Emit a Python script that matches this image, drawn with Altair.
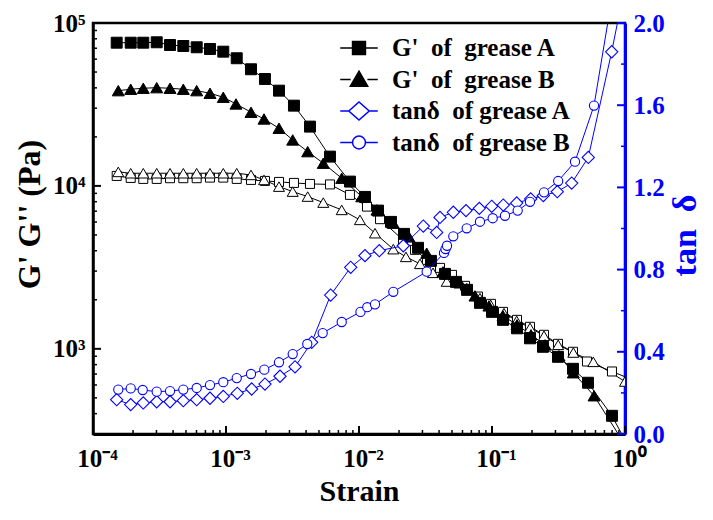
import altair as alt
import pandas as pd

# ---------------- data ----------------
# G' of grease A (filled squares)
strain_gp_a = [1.507e-4, 1.921e-4, 2.388e-4, 3.013e-4, 3.795e-4, 4.776e-4, 6.02e-4, 7.58e-4, 9.54e-4,
               1.204e-3, 1.542e-3, 1.963e-3, 2.503e-3, 3.243e-3, 4.28e-3, 6.05e-3, 8.55e-3, 1.109e-2,
               1.390e-2, 1.740e-2, 2.178e-2, 2.778e-2, 3.475e-2, 4.43e-2, 5.36e-2, 6.49e-2, 8.12e-2,
               0.100, 0.121, 0.1542, 0.1931, 0.2417, 0.3134, 0.4064, 0.527, 0.798, 1.0]
gp_a = [75700, 75700, 75700, 76150, 73280, 72270, 70950, 69270, 66680,
        60760, 52000, 45330, 38430, 31090, 23120, 15130, 10630, 8560,
        7055, 6014, 5076, 4169, 3467, 2884, 2576, 2301, 1915,
        1686, 1506, 1336, 1160, 1029, 893, 754, 619, 388, 275]

# G' of grease B (filled triangles)
strain_gp_b = [1.549e-4, 1.921e-4, 2.388e-4, 3.013e-4, 3.795e-4, 4.776e-4, 6.02e-4, 7.58e-4, 9.54e-4,
               1.189e-3, 1.542e-3, 1.931e-3, 2.503e-3, 3.174e-3, 4.113e-3, 5.389e-3, 7.413e-3, 1.048e-2,
               1.365e-2, 1.811e-2, 2.377e-2, 3.228e-2, 4.28e-2, 5.74e-2, 7.45e-2, 9.48e-2, 0.121,
               0.1542, 0.1965, 0.2503, 0.3191, 0.4088, 0.585, 1.0]
gp_b = [38430, 39200, 39760, 40090, 39760, 39200, 38430, 37040, 35010,
        31850, 28320, 25760, 22590, 19150, 16230, 13785, 11150, 8600,
        7124, 5904, 4866, 3865, 2968, 2541, 2114, 1835, 1594,
        1404, 1219, 1058, 906, 713, 515, 258]

# G'' of grease A (open squares)
strain_gpp_a = [1.507e-4, 1.921e-4, 2.388e-4, 3.013e-4, 3.795e-4, 4.776e-4, 6.02e-4, 7.58e-4, 9.54e-4,
                1.204e-3, 1.542e-3, 1.963e-3, 2.503e-3, 3.243e-3, 4.28e-3, 6.05e-3, 8.55e-3, 1.148e-2,
                1.439e-2, 2.142e-2, 2.636e-2, 3.243e-2, 4.064e-2, 5.0e-2, 6.27e-2, 7.845e-2, 9.83e-2,
                0.121, 0.1542, 0.1931, 0.246, 0.3134, 0.4064, 0.5176, 0.798, 1.19]
gpp_a = [11516, 11194, 11040, 11040, 11150, 11150, 11150, 11246, 11246,
         11040, 10885, 10732, 10580, 10432, 10287, 10214, 8808, 7464,
         6248, 4664, 4050, 3516, 3140, 2844, 2435, 2094, 1888,
         1686, 1506, 1365, 1219, 1073, 959, 836, 726, 636]

# G'' of grease B (open triangles)
strain_gpp_b = [1.549e-4, 1.921e-4, 2.388e-4, 3.013e-4, 3.795e-4, 4.776e-4, 6.02e-4, 7.58e-4, 9.54e-4,
                1.204e-3, 1.542e-3, 1.931e-3, 2.503e-3, 3.174e-3, 4.113e-3, 5.389e-3, 7.413e-3, 1.017e-2,
                1.319e-2, 1.811e-2, 2.254e-2, 2.875e-2, 3.6e-2, 4.565e-2, 6.452e-2, 8.12e-2, 9.77e-2,
                0.1230, 0.1533, 0.1931, 0.246, 0.3145, 0.4088, 0.5777, 1.0]
gpp_b = [12190, 11960, 11960, 11960, 11960, 11960, 11960, 11960, 11960,
         11960, 11680, 10885, 9900, 9226, 8600, 7898, 7124, 6186,
         5126, 4090, 3667, 3323, 2927, 2588, 2357, 2046, 1862,
         1656, 1485, 1345, 1202, 1058, 949, 832, 630]

# tan delta of grease A (open diamonds)
strain_tan_a = [1.507e-4, 1.921e-4, 2.388e-4, 3.013e-4, 3.795e-4, 4.776e-4, 6.02e-4, 7.58e-4, 9.54e-4,
                1.216e-3, 1.560e-3, 1.963e-3, 2.547e-3, 3.303e-3, 4.408e-3, 6.12e-3, 8.66e-3, 1.109e-2,
                1.421e-2, 2.153e-2, 3.045e-2, 3.837e-2, 4.064e-2, 5.117e-2, 6.374e-2, 8.025e-2, 9.95e-2,
                0.1216, 0.1533, 0.1954, 0.2430, 0.3097, 0.3972, 0.5297, 0.7943, 1.19]
tan_a = [0.167, 0.143, 0.151, 0.157, 0.157, 0.162, 0.167, 0.174, 0.183,
         0.198, 0.219, 0.243, 0.281, 0.327, 0.446, 0.676, 0.811, 0.868,
         0.892, 0.916, 1.012, 0.981, 1.054, 1.079, 1.087, 1.098, 1.108,
         1.114, 1.124, 1.144, 1.160, 1.179, 1.221, 1.346, 1.860, 2.43]

# tan delta of grease B (open circles)
strain_tan_b = [1.549e-4, 1.921e-4, 2.364e-4, 3.013e-4, 3.795e-4, 4.776e-4, 6.02e-4, 7.58e-4, 9.54e-4,
                1.204e-3, 1.542e-3, 1.941e-3, 2.503e-3, 3.174e-3, 4.085e-3, 5.333e-3, 7.413e-3, 1.026e-2,
                1.154e-2, 1.319e-2, 1.811e-2, 3.228e-2, 4.355e-2, 4.472e-2, 4.59e-2, 5.117e-2, 6.452e-2,
                8.12e-2, 0.1012, 0.1252, 0.1560, 0.1931, 0.246, 0.3145, 0.4207, 0.5847, 0.855]
tan_b = [0.216, 0.222, 0.214, 0.206, 0.209, 0.216, 0.224, 0.238, 0.252,
         0.272, 0.292, 0.313, 0.349, 0.389, 0.438, 0.491, 0.545, 0.594,
         0.617, 0.631, 0.692, 0.790, 0.881, 0.900, 0.916, 0.962, 1.001,
         1.033, 1.050, 1.062, 1.087, 1.130, 1.176, 1.231, 1.325, 1.598, 2.24]

# legend entries
legend_labels = ["\u00a0G'\u00a0\u00a0of\u00a0\u00a0grease A",
                 "\u00a0G'\u00a0\u00a0of\u00a0\u00a0grease B",
                 "tan\u03b4\u00a0\u00a0of grease A",
                 "tan\u03b4\u00a0\u00a0of grease B"]

# axis ticks / labels
x_major = [0.0001, 0.001, 0.01, 0.1, 1.0]
x_major_labels = ["10\u207b\u2074", "10\u207b\u00b3", "10\u207b\u00b2", "10\u207b\u00b9", "10\u2070"]
x_minor = [m * d for d in [0.0001, 0.001, 0.01, 0.1] for m in range(2, 10)]
yl_major = [1000, 10000, 100000]
yl_major_labels = ["10\u00b3", "10\u2074", "10\u2075"]
yl_minor = [m * d for d in [100, 1000, 10000] for m in range(2, 10) if m * d >= 300]
yr_major = [0.0, 0.4, 0.8, 1.2, 1.6, 2.0]
yr_minor = [0.2, 0.6, 1.0, 1.4, 1.8]

# ---------------- styling ----------------
FONT = "Liberation Serif"
BLUE = "#0000ff"
W, H = 532, 411


def label_expr(values, labels):
    expr = f"'{labels[-1]}'"
    for v, lab in reversed(list(zip(values[:-1], labels[:-1]))):
        expr = f"datum.value < {v * 3:g} ? '{lab}' : ({expr})"
    return expr


x_scale = alt.Scale(type="log", domain=[1e-4, 1.0], nice=False)
yl_scale = alt.Scale(type="log", domain=[300, 100000], nice=False)
yr_scale = alt.Scale(type="linear", domain=[0, 2.0], nice=False, zero=False)

x_main = alt.Axis(orient="bottom", values=x_major, labelExpr=label_expr(x_major, x_major_labels),
                  ticks=False, domainColor="black", domainWidth=3, grid=False,
                  labelFont=FONT, labelFontSize=25, labelFontWeight="bold", labelColor="black",
                  labelPadding=12, labelFlush=False, labelOverlap=False, labelOffset=4,
                  title="Strain", titleFont=FONT, titleFontSize=30, titleFontWeight="bold",
                  titleColor="black", titleY=66, titleBaseline="alphabetic")

yl_main = alt.Axis(orient="left", values=yl_major, labelExpr=label_expr(yl_major, yl_major_labels),
                   ticks=False, domainColor="black", domainWidth=2.5, grid=False,
                   labelFont=FONT, labelFontSize=25, labelFontWeight="bold", labelColor="black",
                   labelPadding=8, labelFlush=False, labelOverlap=False,
                   title="G' G'' (Pa)", titleFont=FONT, titleFontSize=32, titleFontWeight="bold",
                   titleColor="black", titleAngle=270, titleX=-47, titleY=191,
                   titleAlign="center", titleBaseline="bottom")

yr_main = alt.Axis(orient="right", values=yr_major, format=".1f", ticks=False,
                   domainColor=BLUE, domainWidth=3, grid=False,
                   labelFont=FONT, labelFontSize=25, labelFontWeight="bold", labelColor=BLUE,
                   labelPadding=8, labelFlush=False, labelOverlap=False,
                   title="tan\u00a0\u00a0\u03b4", titleFont=FONT, titleFontSize=34, titleFontWeight="bold",
                   titleColor=BLUE, titleAngle=270, titleX=77, titleY=212,
                   titleAlign="center", titleBaseline="bottom")


def frame(xs, ys):
    return pd.DataFrame({"strain": xs, "val": ys})


def line_layer(df, color, y_scale, y_axis, width=1.0):
    return alt.Chart(df).mark_line(color=color, strokeWidth=width, clip=True).encode(
        x=alt.X("strain:Q", scale=x_scale, axis=x_main),
        y=alt.Y("val:Q", scale=y_scale, axis=y_axis),
    )


def point_layer(df, shape, fill, stroke, size, y_scale, y_axis, sw=1.0):
    return alt.Chart(df).mark_point(shape=shape, fill=fill, stroke=stroke, size=size, strokeWidth=sw,
                                    filled=True, opacity=1, fillOpacity=1, strokeOpacity=1,
                                    clip=True).encode(
        x=alt.X("strain:Q", scale=x_scale, axis=x_main),
        y=alt.Y("val:Q", scale=y_scale, axis=y_axis),
    )


# inward tick marks (drawn from the tick-value lists through the scales)
def x_ticks(values, length, width):
    return alt.Chart(pd.DataFrame({"v": values})).mark_rule(color="black", strokeWidth=width).encode(
        x=alt.X("v:Q", scale=x_scale, axis=x_main),
        y=alt.value(H), y2=alt.value(H - length))


def y_ticks(values, scale, y_axis, length, width, color, side):
    x0 = 0 if side == "left" else W
    x1 = length if side == "left" else W - length
    return alt.Chart(pd.DataFrame({"v": values})).mark_rule(color=color, strokeWidth=width).encode(
        y=alt.Y("v:Q", scale=scale, axis=y_axis),
        x=alt.value(x0), x2=alt.value(x1))


df_gp_a = frame(strain_gp_a, gp_a)
df_gp_b = frame(strain_gp_b, gp_b)
df_gpp_a = frame(strain_gpp_a, gpp_a)
df_gpp_b = frame(strain_gpp_b, gpp_b)
df_tan_a = frame(strain_tan_a, tan_a)
df_tan_b = frame(strain_tan_b, tan_b)

# legend-only layer (placed outside the domain, clipped away)
leg_df = pd.DataFrame({"series": legend_labels, "strain": [1e-6] * 4, "val": [1.0] * 4})
leg_paths = [
    "M-1.25,0H-0.43M0.43,0H1.25M-0.43,-0.43H0.43V0.43H-0.43Z",
    "M-1.25,0H-0.56M0.56,0H1.25M0,-0.55L0.58,0.45L-0.58,0.45Z",
    "M-1.25,0H-0.68M0.68,0H1.25M-0.68,0L0,-0.6L0.68,0L0,0.6Z",
    "M-1.25,0H-0.43M0.43,0H1.25M-0.43,0A0.43,0.43,0,1,0,0.43,0A0.43,0.43,0,1,0,-0.43,0Z",
]
legend_obj = alt.Legend(title=None, orient="none", legendX=250, legendY=9, symbolSize=900,
                        symbolStrokeWidth=1.5, labelFont=FONT, labelFontSize=25,
                        labelFontWeight="bold", labelColor="black", labelOffset=17,
                        labelLimit=500, rowPadding=2.5, padding=0)
legend_layer = alt.Chart(leg_df).mark_point(filled=True, opacity=1, size=10, clip=True).encode(
    x=alt.X("strain:Q", scale=x_scale, axis=x_main),
    y=alt.Y("val:Q", scale=yl_scale, axis=yl_main),
    shape=alt.Shape("series:N", scale=alt.Scale(domain=legend_labels, range=leg_paths), legend=legend_obj),
    fill=alt.Fill("series:N", scale=alt.Scale(domain=legend_labels, range=["black", "black", "white", "white"]),
                  legend=legend_obj),
    stroke=alt.Stroke("series:N", scale=alt.Scale(domain=legend_labels, range=["black", "black", BLUE, BLUE]),
                      legend=legend_obj),
)

left = alt.layer(
    line_layer(df_gpp_a, "black", yl_scale, yl_main),
    line_layer(df_gpp_b, "black", yl_scale, yl_main),
    line_layer(df_gp_a, "black", yl_scale, yl_main),
    line_layer(df_gp_b, "black", yl_scale, yl_main),
    x_ticks(x_minor, 4, 1.5),
    x_ticks(x_major, 8, 2),
    y_ticks(yl_minor, yl_scale, yl_main, 4, 1.5, "black", "left"),
    y_ticks(yl_major, yl_scale, yl_main, 8, 2, "black", "left"),
    point_layer(df_gpp_a, "square", "white", "black", 81, yl_scale, yl_main),
    point_layer(df_gpp_b, "triangle-up", "white", "black", 121, yl_scale, yl_main),
    point_layer(df_gp_b, "triangle-up", "black", "black", 144, yl_scale, yl_main),
    point_layer(df_gp_a, "square", "black", "black", 120, yl_scale, yl_main),
    legend_layer,
)

right = alt.layer(
    line_layer(df_tan_a, BLUE, yr_scale, yr_main),
    line_layer(df_tan_b, BLUE, yr_scale, yr_main),
    y_ticks(yr_minor, yr_scale, yr_main, 4, 1.5, BLUE, "right"),
    y_ticks(yr_major, yr_scale, yr_main, 8, 2, BLUE, "right"),
    point_layer(df_tan_a, "diamond", "white", BLUE, 150, yr_scale, yr_main, sw=1.1),
    point_layer(df_tan_b, "circle", "white", BLUE, 85, yr_scale, yr_main, sw=1.1),
)

chart = alt.layer(left, right).resolve_scale(y="independent").properties(
    width=W, height=H,
    padding={"left": 85, "top": 15, "right": 79, "bottom": 74},
    autosize=alt.AutoSizeParams(type="none"),
).configure_view(stroke="black", strokeWidth=2.5).configure_axis(grid=False)

chart.save("out.html", embed_options={"renderer": "svg", "actions": False})
